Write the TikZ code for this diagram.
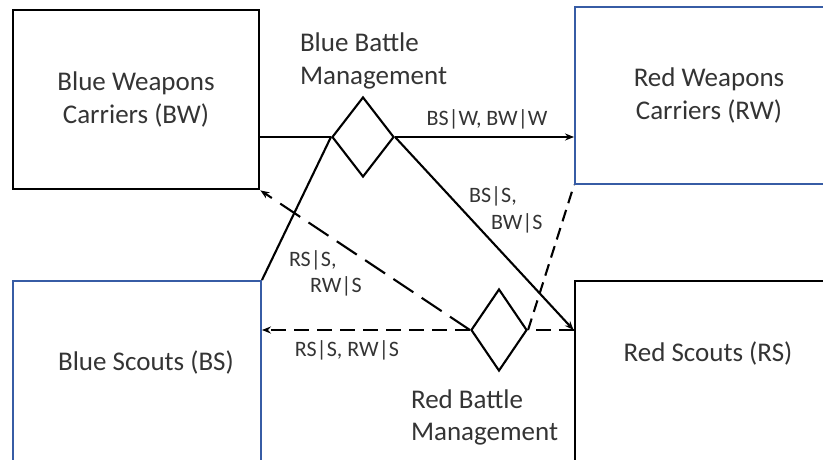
\documentclass[tikz,border=0pt]{standalone}
\usepackage{fontspec}
\setmainfont{Carlito}
\usetikzlibrary{shapes.geometric,arrows.meta}
\definecolor{boxblue}{RGB}{55,92,165}
\definecolor{txtgray}{RGB}{52,52,52}
\tikzset{
  bigtext/.style={font=\fontsize{27}{32.5}\selectfont, text=txtgray, align=center},
  smalltext/.style={font=\fontsize{22}{26.5}\selectfont, text=txtgray, inner sep=0pt},
  bluebox/.style={draw=boxblue, line width=1.9pt},
  blackbox/.style={draw, line width=2.8pt},
  bm/.style={diamond, draw, inner sep=0pt}
}
\begin{document}
\begin{tikzpicture}[x=1pt, y=-1pt, >={Stealth[length=9pt,width=7pt]}, line width=2.1pt]
\useasboundingbox (0,0) rectangle (823,460);
\clip (0,0) rectangle (823,460);
% the four forces
\node[blackbox, minimum width=246pt, minimum height=179pt, bigtext] (bw) at (136,99.5) {Blue Weapons\\Carriers (BW)};
\node[bluebox, minimum width=268pt, minimum height=177pt, bigtext] (rw) at (709,95.5) {Red Weapons\\Carriers (RW)};
\node[bluebox, minimum width=248pt, minimum height=194pt] (bs) at (137,378) {};
\node[bigtext] (bstext) at (146,362) {Blue Scouts (BS)};
\node[blackbox, minimum width=270pt, minimum height=194pt] (rs) at (710,378) {};
\node[bigtext] (rstext) at (708,353) {Red Scouts (RS)};
% battle management
\node[bm, minimum width=62pt, minimum height=80pt] (bbm) at (363,137) {};
\node[bm, minimum width=56pt, minimum height=82pt] (rbm) at (499,330) {};
\node[bigtext, align=left, anchor=west, inner sep=0pt] (bbmtext) at (299,61) {Blue Battle\\Management};
\node[bigtext, align=left, anchor=west, inner sep=0pt] (rbmtext) at (410,417.5) {Red Battle\\Management};
% blue links
\draw (bw.east |- bbm.west) -- (bbm.west);
\draw[->] (bbm.east) -- (rw.west |- bbm.east);
\draw (bbm.west) -- (bs.north east);
\draw[->] (bbm.east) -- (rs.west |- rbm.east);
% red links
\draw[dash pattern=on 15pt off 8pt] (rs.west |- rbm.east) -- (rbm.east);
\draw[->, dash pattern=on 15pt off 8pt] (rbm.west) -- (bs.east |- rbm.west);
\draw[->, dash pattern=on 24pt off 10pt] (rbm.west) -- (bw.south east);
\draw[dash pattern=on 12pt off 7pt] (rbm.east) -- (rw.south west);
% labels
\node[smalltext] (lblw) at (487,119) {BS|W, BW|W};
\node[smalltext, align=left, anchor=west] (lbls) at (468,210) {BS|S,\\\hspace*{22pt}BW|S};
\node[smalltext, align=left, anchor=west] (lblr) at (288,273.5) {RS|S,\\\hspace*{21pt}RW|S};
\node[smalltext] (lblh) at (347,350) {RS|S, RW|S};
\end{tikzpicture}
\end{document}
